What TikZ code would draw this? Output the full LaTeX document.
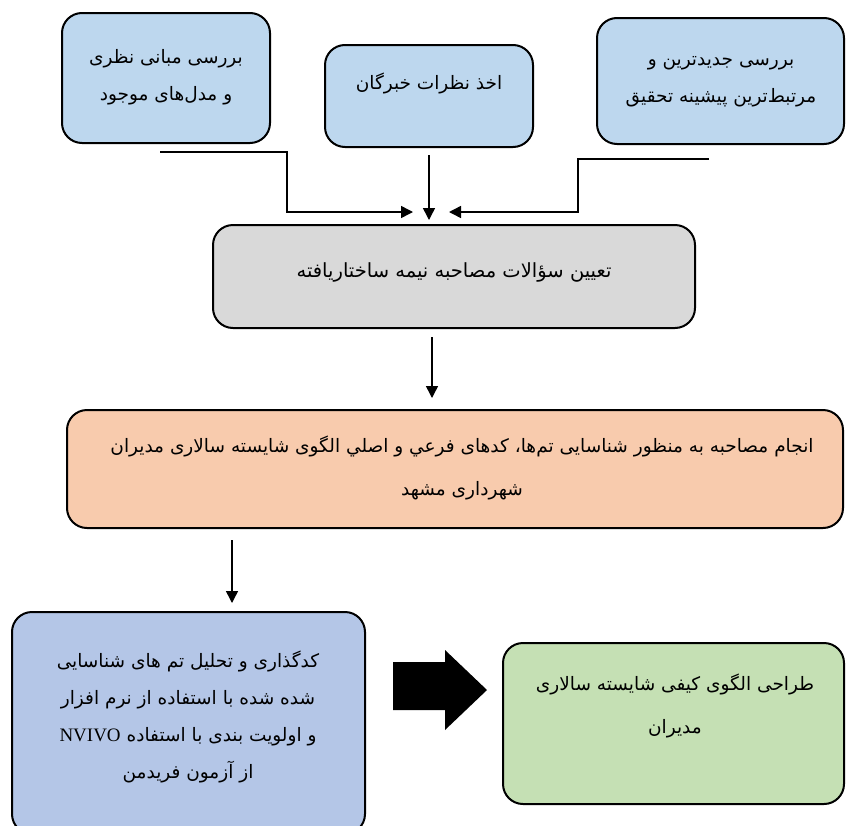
\documentclass[tikz,border=0pt]{standalone}
\usepackage{fontspec}
\setmainfont{Liberation Serif}
\newfontfamily\fa[Script=Arabic]{DejaVu Sans}
\TeXXeTstate=1
\usetikzlibrary{arrows.meta}
\definecolor{topblue}{HTML}{BDD7EE}
\definecolor{greybox}{HTML}{D9D9D9}
\definecolor{orangebox}{HTML}{F8CBAD}
\definecolor{bluebox}{HTML}{B4C6E7}
\definecolor{greenbox}{HTML}{C5E0B4}
\begin{document}
\begin{tikzpicture}[x=1pt,y=-1pt,
  box/.style={draw=black, line width=2pt, rounded corners=20pt, inner sep=0pt},
  lbl/.style={font=\fa\fontsize{18.5}{37}\selectfont, align=center, inner sep=0pt},
  conn/.style={line width=1.5pt, -{Triangle[length=12pt,width=12pt]}}]
\useasboundingbox (0,0) rectangle (846,825);
\clip (0,0) rectangle (846,825);
% boxes
\node[box, fill=topblue, minimum width=208pt, minimum height=130pt] (b1) at (166,78) {};
\node[box, fill=topblue, minimum width=208pt, minimum height=102pt] (b2) at (429,96) {};
\node[box, fill=topblue, minimum width=247pt, minimum height=126pt] (b3) at (720.5,81) {};
\node[box, fill=greybox, minimum width=482pt, minimum height=103pt] (g) at (454,276.5) {};
\node[box, fill=orangebox, minimum width=776pt, minimum height=118pt] (o) at (455,469) {};
\node[box, fill=bluebox, minimum width=353pt, minimum height=222pt] (bl) at (188.5,723) {};
\node[box, fill=greenbox, minimum width=341pt, minimum height=161pt] (gr) at (673.5,723.5) {};
% texts
\node[lbl] (t1) at (166,77) {\beginR بررسی مبانی نظری\endR\\\beginR و مدل‌های موجود\endR};
\node[lbl] (t2) at (429,83) {\beginR اخذ نظرات خبرگان\endR};
\node[lbl] (t3) at (721,81.5) {\beginR بررسی جدیدترین و\endR\\\beginR مرتبط‌ترین پیشینه تحقیق\endR};
\node[lbl, font=\fa\fontsize{19.5}{37}\selectfont] (tg) at (454,272) {\beginR تعیین سؤالات مصاحبه نیمه ساختاریافته\endR};
\node[lbl, font=\fa\fontsize{18.5}{43}\selectfont] (to) at (462,468) {\beginR انجام مصاحبه به منظور شناسایی تم‌ها، کدهای فرعي و اصلي الگوی شایسته سالاری مدیران\endR\\\beginR شهرداری مشهد\endR};
\node[lbl] (tb) at (188,717) {\beginR کدگذاری و تحلیل تم های شناسایی\endR\\\beginR شده شده با استفاده از نرم افزار\endR\\\beginR و اولویت بندی با استفاده \beginL{\rmfamily\fontsize{19}{19}\selectfont NVIVO}\endL\endR\\\beginR از آزمون فریدمن\endR};
\node[lbl, font=\fa\fontsize{18.5}{43}\selectfont] (tgr) at (675,706) {\beginR طراحی الگوی کیفی شایسته سالاری\endR\\\beginR مدیران\endR};
% connectors
\coordinate (ls) at (160,152);
\coordinate (lb) at (287,212);
\coordinate (lt) at (413,212);
\draw[conn] (ls) -| (lb) -- (lt);
\coordinate (ms) at (429,155);
\coordinate (mt) at (429,220);
\draw[conn] (ms) -- (mt);
\coordinate (rs) at (709,159);
\coordinate (rb) at (578,212);
\coordinate (rt) at (449,212);
\draw[conn] (rs) -| (rb) -- (rt);
\coordinate (go1) at (432,337);
\coordinate (go2) at (432,398);
\draw[conn] (go1) -- (go2);
\coordinate (ob1) at (232,540);
\coordinate (ob2) at (232,603);
\draw[conn] (ob1) -- (ob2);
% big arrow
\fill (393,662) -- (445,662) -- (445,650) -- (487,690) -- (445,730) -- (445,710) -- (393,710) -- cycle;
\end{tikzpicture}
\end{document}
